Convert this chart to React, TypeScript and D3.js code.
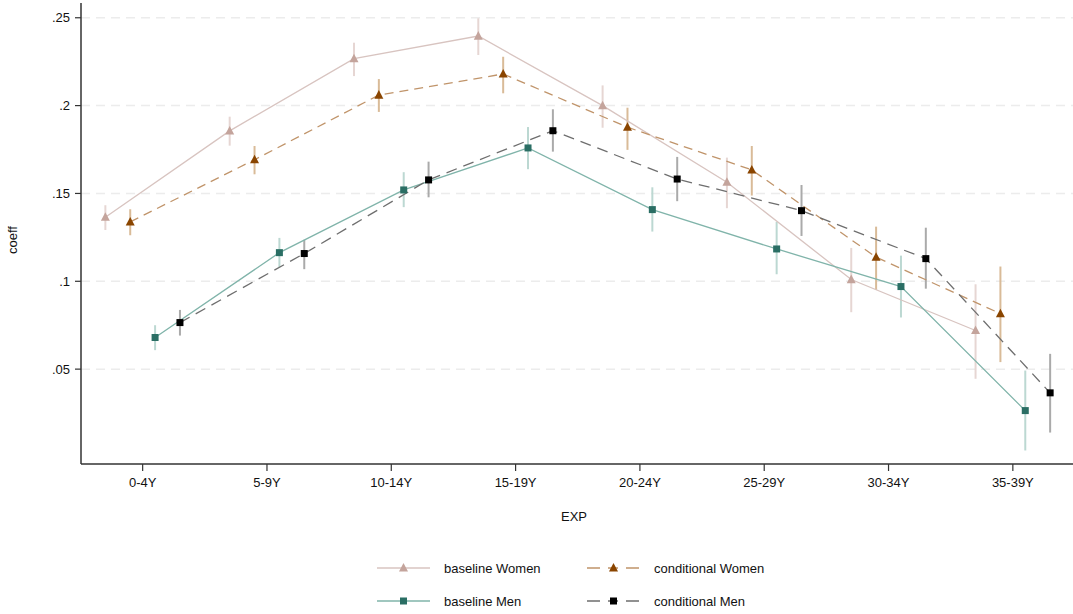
import React from 'react'
import * as d3 from 'd3'

const categories = ['0-4Y', '5-9Y', '10-14Y', '15-19Y', '20-24Y', '25-29Y', '30-34Y', '35-39Y']

const baseWomen = [0.1365, 0.1856, 0.2267, 0.2396, 0.2, 0.1564, 0.101, 0.072]
const baseWomenLo = [0.1292, 0.1772, 0.2168, 0.2288, 0.1874, 0.1416, 0.0824, 0.0445]
const baseWomenHi = [0.1433, 0.1937, 0.2358, 0.2497, 0.2115, 0.1704, 0.119, 0.0983]

const condWomen = [0.1338, 0.1692, 0.206, 0.218, 0.1877, 0.1634, 0.1137, 0.0816]
const condWomenLo = [0.1262, 0.1609, 0.1964, 0.207, 0.1748, 0.1488, 0.0951, 0.054]
const condWomenHi = [0.141, 0.177, 0.2151, 0.2278, 0.1988, 0.177, 0.1311, 0.1084]

const baseMen = [0.068, 0.1163, 0.152, 0.1759, 0.1408, 0.1184, 0.097, 0.0264]
const baseMenLo = [0.0608, 0.108, 0.1422, 0.1638, 0.1283, 0.104, 0.0794, 0.0037]
const baseMenHi = [0.075, 0.1247, 0.1621, 0.1878, 0.1535, 0.1338, 0.1146, 0.0492]

const condMen = [0.0765, 0.1158, 0.1577, 0.1857, 0.1582, 0.1402, 0.1129, 0.0365]
const condMenLo = [0.0691, 0.1069, 0.1478, 0.1738, 0.1456, 0.1258, 0.0958, 0.0139]
const condMenHi = [0.0837, 0.1236, 0.1681, 0.1979, 0.1708, 0.1548, 0.1305, 0.0587]

const yTicks = [0.05, 0.1, 0.15, 0.2, 0.25]
const yTickLabels = ['.05', '.1', '.15', '.2', '.25']

const series = [
  { name: 'baseline Women', v: baseWomen, lo: baseWomenLo, hi: baseWomenHi, off: -0.3,
    marker: '#c4a49c', line: '#d8c4c0', ci: '#e6d6d3', dash: null, shape: 'tri' },
  { name: 'conditional Women', v: condWomen, lo: condWomenLo, hi: condWomenHi, off: -0.1,
    marker: '#8a4500', line: '#c0946a', ci: '#d9bb98', dash: '9,6', shape: 'tri' },
  { name: 'baseline Men', v: baseMen, lo: baseMenLo, hi: baseMenHi, off: 0.1,
    marker: '#2a6e64', line: '#80b4aa', ci: '#bcd8d2', dash: null, shape: 'sq' },
  { name: 'conditional Men', v: condMen, lo: condMenLo, hi: condMenHi, off: 0.3,
    marker: '#000000', line: '#6e6e6e', ci: '#aaaaaa', dash: '11,7', shape: 'sq' },
]

const W = 1073
const H = 614
const font = '"Liberation Sans", Arial, sans-serif'

function Marker({ shape, x, y, color }: any) {
  if (shape === 'tri') {
    const s = 9
    const p = `${x},${y - s * 0.55} ${x - s / 2},${y + s * 0.4} ${x + s / 2},${y + s * 0.4}`
    return <polygon points={p} fill={color} />
  }
  return <rect x={x - 3.5} y={y - 3.5} width={7} height={7} fill={color} />
}

export default function App() {
  // category i sits at i; the plot runs half a category past each end
  const x = d3.scaleLinear().domain([0.5, 8.5]).range([80.5, 1075])
  const y = d3.scaleLinear().domain([-0.004, 0.2584]).range([464, 3])
  const line = d3.line<[number, number]>().x(d => d[0]).y(d => d[1])

  const legendPos = [
    { lx: 377, ly: 568 }, { lx: 587, ly: 568 }, { lx: 377, ly: 601 }, { lx: 587, ly: 601 },
  ]

  return (
    <svg width={W} height={H} style={{ position: 'absolute', left: 0, top: 0 }} fontFamily={font}>
      <rect width={W} height={H} fill="#fff" />
      {yTicks.map((t, i) => (
        <g key={`g${i}`}>
          <line x1={81} x2={W} y1={y(t)} y2={y(t)} stroke="#ececec" strokeWidth={1.5} strokeDasharray="9,6" />
          <line x1={75} x2={81} y1={y(t)} y2={y(t)} stroke="#333" strokeWidth={1.2} />
          <text x={70} y={y(t)} dy="0.35em" textAnchor="end" fontSize={13} fill="#111">{yTickLabels[i]}</text>
        </g>
      ))}
      {series.map((s, si) => (
        <g key={`s${si}`}>
          {s.v.map((_, i) => (
            <line key={i} x1={x(i + 1 + s.off)} x2={x(i + 1 + s.off)} y1={y(s.lo[i])} y2={y(s.hi[i])}
              stroke={s.ci} strokeWidth={2} />
          ))}
        </g>
      ))}
      {series.map((s, si) => (
        <path key={`l${si}`} d={line(s.v.map((v, i) => [x(i + 1 + s.off), y(v)])) || ''}
          fill="none" stroke={s.line} strokeWidth={1.3} strokeDasharray={s.dash || undefined} />
      ))}
      {series.map((s, si) => (
        <g key={`m${si}`}>
          {s.v.map((v, i) => (
            <Marker key={i} shape={s.shape} x={x(i + 1 + s.off)} y={y(v)} color={s.marker} />
          ))}
        </g>
      ))}
      <line x1={81} x2={81} y1={3} y2={464} stroke="#333" strokeWidth={1.5} />
      <line x1={81} x2={W} y1={464} y2={464} stroke="#333" strokeWidth={1.5} />
      {categories.map((c, i) => (
        <g key={`c${i}`}>
          <line x1={x(i + 1)} x2={x(i + 1)} y1={464} y2={471} stroke="#333" strokeWidth={1.2} />
          <text x={x(i + 1)} y={487} textAnchor="middle" fontSize={13} fill="#111">{c}</text>
        </g>
      ))}
      <text x={574} y={521} textAnchor="middle" fontSize={13} fill="#111">EXP</text>
      <text transform="translate(17,240) rotate(-90)" textAnchor="middle" fontSize={13} fill="#111">coeff</text>
      {series.map((s, si) => {
        const { lx, ly } = legendPos[si]
        return (
          <g key={`lg${si}`}>
            <line x1={lx} x2={lx + 53} y1={ly} y2={ly} stroke={s.line} strokeWidth={1.3}
              strokeDasharray={s.dash ? '13,8,10,8,13' : undefined} />
            <Marker shape={s.shape} x={lx + 26.5} y={ly} color={s.marker} />
            <text x={lx + 67} y={ly} dy="0.35em" fontSize={13} fill="#111">{s.name}</text>
          </g>
        )
      })}
    </svg>
  )
}
